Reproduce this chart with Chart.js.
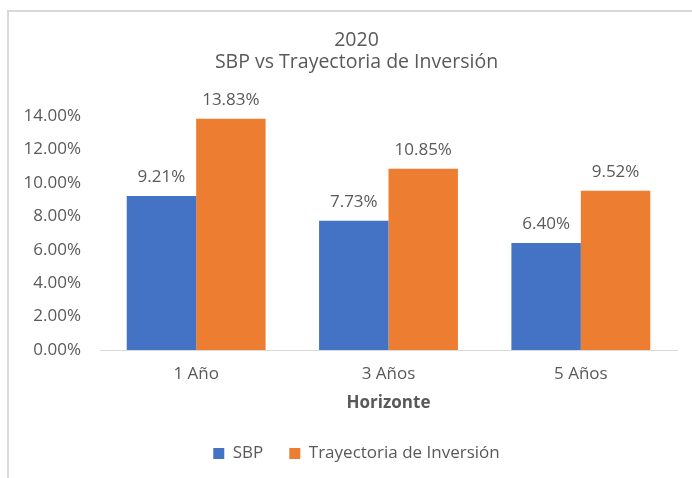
<!DOCTYPE html>
<html>
<head>
<meta charset="utf-8">
<script src="https://cdn.jsdelivr.net/npm/chart.js@4/dist/chart.umd.min.js"></script>
<style>
  html, body { margin: 0; padding: 0; background: #ffffff; width: 692px; height: 478px; overflow: hidden; }
  #frame { position: absolute; left: 7px; top: 10px; width: 800px; height: 600px;
           border-left: 2px solid #d9d9d9; border-top: 2px solid #d9d9d9; box-sizing: border-box; }
  #wrap { position: absolute; left: 0; top: 0; width: 713px; height: 478px; }
</style>
</head>
<body>
<div id="frame"></div>
<div id="wrap"><canvas id="c" width="713" height="478"></canvas></div>
<script>
const titleLines = ['2020', 'SBP vs Trayectoria de Inversión'];
const categories = ['1 Año', '3 Años', '5 Años'];
const seriesNames = ['SBP', 'Trayectoria de Inversión'];
const sbpValues = [9.21, 7.73, 6.40];
const trayectoriaValues = [13.83, 10.85, 9.52];
const yMin = 0, yMax = 14, yStep = 2;
const xAxisTitle = 'Horizonte';

const textColor = '#595959';
const fontFamily = '"Open Sans", "Noto Sans", sans-serif';
const fmt = v => Number(v).toFixed(2) + '%';

const dataLabels = {
  id: 'dataLabels',
  afterDatasetsDraw(chart) {
    const ctx = chart.ctx;
    ctx.save();
    ctx.font = '17px ' + fontFamily;
    ctx.fillStyle = textColor;
    ctx.textAlign = 'center';
    ctx.textBaseline = 'middle';
    chart.data.datasets.forEach((ds, di) => {
      const meta = chart.getDatasetMeta(di);
      meta.data.forEach((el, i) => {
        ctx.fillText(fmt(ds.data[i]), el.x, el.y - 18.5);
      });
    });
    ctx.restore();
  }
};

new Chart(document.getElementById('c'), {
  type: 'bar',
  data: {
    labels: categories,
    datasets: [
      { label: seriesNames[0], data: sbpValues, backgroundColor: '#4472C4', borderWidth: 0,
        categoryPercentage: 0.722, barPercentage: 1.0 },
      { label: seriesNames[1], data: trayectoriaValues, backgroundColor: '#ED7D31', borderWidth: 0,
        categoryPercentage: 0.722, barPercentage: 1.0 }
    ]
  },
  options: {
    responsive: false,
    animation: false,
    devicePixelRatio: 1,
    layout: { padding: { left: 0, right: 0, top: 0, bottom: 6 } },
    plugins: {
      title: {
        display: true,
        text: titleLines,
        color: textColor,
        font: { family: fontFamily, size: 19.5, weight: 'normal', lineHeight: 1.128 },
        padding: { top: 29.5, bottom: 42.5 }
      },
      legend: {
        display: true,
        position: 'bottom',
        labels: {
          color: textColor,
          font: { family: fontFamily, size: 17 },
          boxWidth: 11,
          boxHeight: 11,
          padding: 26
        }
      },
      tooltip: { enabled: false }
    },
    scales: {
      x: {
        grid: { display: true, drawOnChartArea: false, drawTicks: false, color: '#d9d9d9' },
        border: { display: true, color: '#d9d9d9', width: 1 },
        ticks: { color: textColor, font: { family: fontFamily, size: 17 }, padding: 14, maxRotation: 0 },
        title: {
          display: true, text: xAxisTitle, color: textColor,
          font: { family: fontFamily, size: 17, weight: 'bold' },
          padding: { top: -5.6, bottom: 5.8 }
        }
      },
      y: {
        min: yMin, max: yMax,
        grid: { display: false, drawTicks: false },
        border: { display: false },
        ticks: { stepSize: yStep, color: textColor, font: { family: fontFamily, size: 17 }, padding: 19,
                 callback: v => fmt(v) },
        afterFit: s => { s.width = 100; }
      },
      yRight: {
        position: 'right',
        display: true,
        grid: { display: false, drawTicks: false },
        border: { display: false },
        ticks: { display: false },
        afterFit: s => { s.width = 36; }
      }
    }
  },
  plugins: [dataLabels]
});
</script>
</body>
</html>
